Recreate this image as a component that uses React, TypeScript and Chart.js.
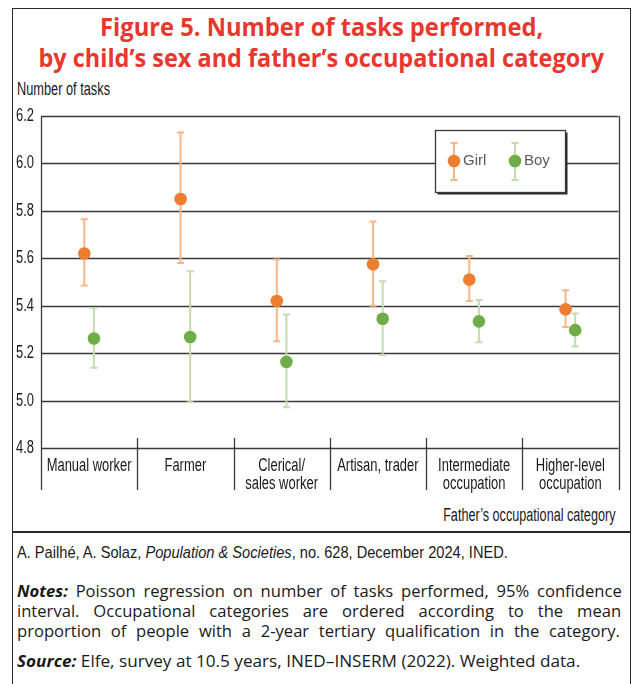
import React, { useEffect, useLayoutEffect, useRef, useState } from "react";
import { Chart, registerables } from "chart.js";

Chart.register(...registerables);

// ---------- data ----------
const categories: string[][] = [
  ["Manual worker"],
  ["Farmer"],
  ["Clerical/", "sales worker"],
  ["Artisan, trader"],
  ["Intermediate", "occupation"],
  ["Higher-level", "occupation"],
];
const seriesNames = ["Girl", "Boy"];
const girlMean = [5.62, 5.85, 5.42, 5.575, 5.51, 5.385];
const girlLow = [5.485, 5.58, 5.25, 5.4, 5.42, 5.31];
const girlHigh = [5.765, 6.13, 5.595, 5.755, 5.61, 5.465];
const boyMean = [5.262, 5.268, 5.163, 5.345, 5.334, 5.297];
const boyLow = [5.138, 4.993, 4.972, 5.192, 5.246, 5.228];
const boyHigh = [5.39, 5.545, 5.363, 5.503, 5.424, 5.367];
const yTicks = [4.8, 5.0, 5.2, 5.4, 5.6, 5.8, 6.0, 6.2];

// ---------- styles ----------
const REG = "'Liberation Sans', Arial, sans-serif";
const HUM = "'Open Sans', 'Noto Sans', sans-serif";
const NARROW_SCALE = 0.72;
const LINE = "#3a3a3a";
const TEXT = "#1a1a1a";
const dotColors = ["#ED7D31", "#70AD47"];
const barColors = ["#F6B688", "#C3DDB0"];
const OFFSET = 0.05;

const framePlugin: any = {
  id: "framePlugin",
  beforeDraw(chart: any) {
    // emulate a condensed face for the axis labels
    const ctx = chart.ctx;
    const orig = ctx.fillText;
    chart.$origFillText = orig;
    ctx.fillText = function (text: string, x: number, y: number) {
      this.save();
      this.translate(x, y);
      this.scale(NARROW_SCALE, 1);
      orig.call(this, text, 0, 0);
      this.restore();
    };
  },
  beforeDatasetsDraw(chart: any) {
    const { ctx, chartArea: ca, scales } = chart;
    if (chart.$origFillText) {
      delete ctx.fillText;
      chart.$origFillText = null;
    }
    const y = scales.y;
    const x = scales.x;
    ctx.save();
    ctx.strokeStyle = LINE;
    ctx.lineWidth = 1.3;
    yTicks.forEach((v) => {
      const py = Math.round(y.getPixelForValue(v)) + 0.5;
      ctx.beginPath();
      ctx.moveTo(ca.left, py);
      ctx.lineTo(ca.right, py);
      ctx.stroke();
    });
    const bottomExt = ca.bottom + 42;
    for (let i = 0; i <= categories.length; i++) {
      const px = Math.round(x.getPixelForValue(i - 0.5)) + 0.5;
      const isEdge = i === 0 || i === categories.length;
      ctx.beginPath();
      ctx.moveTo(px, isEdge ? ca.top : ca.bottom - 10);
      ctx.lineTo(px, bottomExt);
      ctx.stroke();
    }
    const lows = [girlLow, boyLow];
    const highs = [girlHigh, boyHigh];
    chart.data.datasets.forEach((ds: any, di: number) => {
      const meta = chart.getDatasetMeta(di);
      ctx.strokeStyle = barColors[di];
      ctx.lineWidth = 2;
      meta.data.forEach((el: any, i: number) => {
        const px = el.x;
        const pl = y.getPixelForValue(lows[di][i]);
        const ph = y.getPixelForValue(highs[di][i]);
        ctx.beginPath();
        ctx.moveTo(px, pl);
        ctx.lineTo(px, ph);
        ctx.moveTo(px - 3.5, pl);
        ctx.lineTo(px + 3.5, pl);
        ctx.moveTo(px - 3.5, ph);
        ctx.lineTo(px + 3.5, ph);
        ctx.stroke();
      });
    });
    ctx.restore();
  },
  afterDatasetsDraw(chart: any) {
    const { ctx, chartArea: ca } = chart;
    const bx = ca.left + 394;
    const by = ca.top + 14;
    const w = 130;
    const h = 62;
    ctx.save();
    ctx.fillStyle = "#2a2a2a";
    ctx.fillRect(bx + 2.5, by + 2.5, w, h);
    ctx.fillStyle = "#ffffff";
    ctx.fillRect(bx, by, w, h);
    ctx.strokeStyle = LINE;
    ctx.lineWidth = 1.3;
    ctx.strokeRect(bx + 0.5, by + 0.5, w, h);
    const cy = by + 31;
    const marks = [bx + 19, bx + 80];
    seriesNames.forEach((name, i) => {
      const mx = marks[i];
      ctx.strokeStyle = barColors[i];
      ctx.lineWidth = 2;
      ctx.beginPath();
      ctx.moveTo(mx, cy - 18);
      ctx.lineTo(mx, cy + 19);
      ctx.moveTo(mx - 3.5, cy - 18);
      ctx.lineTo(mx + 3.5, cy - 18);
      ctx.moveTo(mx - 3.5, cy + 19);
      ctx.lineTo(mx + 3.5, cy + 19);
      ctx.stroke();
      ctx.fillStyle = dotColors[i];
      ctx.beginPath();
      ctx.arc(mx, cy, 6.3, 0, Math.PI * 2);
      ctx.fill();
      ctx.fillStyle = "#595959";
      ctx.font = `15px ${REG}`;
      ctx.textBaseline = "middle";
      ctx.textAlign = "left";
      ctx.fillText(name, mx + 9, cy);
    });
    ctx.restore();
  },
};

function ChartCanvas() {
  const ref = useRef<HTMLCanvasElement>(null);
  useEffect(() => {
    if (!ref.current) return;
    const means = [girlMean, boyMean];
    const chart = new Chart(ref.current, {
      type: "scatter",
      data: {
        datasets: seriesNames.map((name, di) => ({
          label: name,
          data: means[di].map((v, i) => ({ x: i + (di === 0 ? -OFFSET : OFFSET), y: v })),
          backgroundColor: dotColors[di],
          borderColor: dotColors[di],
          borderWidth: 0,
          pointRadius: 6.3,
          pointHoverRadius: 6.3,
          showLine: false,
        })),
      },
      options: {
        animation: false,
        responsive: false,
        devicePixelRatio: 1,
        layout: { padding: { top: 41, right: 11.5, left: 0, bottom: 0 } },
        plugins: { legend: { display: false }, tooltip: { enabled: false } },
        scales: {
          x: {
            type: "linear",
            min: -0.5,
            max: 5.5,
            grid: { display: false, drawTicks: false },
            border: { display: false },
            afterBuildTicks: (s: any) => {
              s.ticks = categories.map((_, i) => ({ value: i }));
            },
            afterFit: (s: any) => {
              s.height = 57;
            },
            ticks: {
              autoSkip: false,
              maxRotation: 0,
              minRotation: 0,
              padding: 9,
              color: TEXT,
              font: { family: REG, size: 18, lineHeight: 1.0 },
              callback: (v: any) => categories[Math.round(Number(v))],
            },
          },
          y: {
            type: "linear",
            min: 4.8,
            max: 6.2,
            grid: { display: false, drawTicks: false },
            border: { display: false },
            afterBuildTicks: (s: any) => {
              s.ticks = yTicks.map((v) => ({ value: v }));
            },
            afterFit: (s: any) => {
              s.width = 29;
            },
            ticks: {
              padding: 7,
              color: TEXT,
              font: { family: REG, size: 18 },
              callback: (v: any) => Number(v).toFixed(1),
            },
          },
        },
      },
      plugins: [framePlugin],
    });
    return () => chart.destroy();
  }, []);
  return (
    <canvas
      ref={ref}
      width={618}
      height={430}
      style={{ position: "absolute", left: 12, top: 75, width: 618, height: 430 }}
    />
  );
}

// Text scaled horizontally to a target width (emulates the condensed faces of the original)
function FitText({
  target,
  origin = "left",
  children,
}: {
  target: number;
  origin?: string;
  children: React.ReactNode;
}) {
  const ref = useRef<HTMLSpanElement>(null);
  const [s, setS] = useState(1);
  useLayoutEffect(() => {
    if (ref.current) {
      const w = ref.current.offsetWidth;
      if (w > 0) setS(target / w);
    }
  }, [target]);
  return (
    <span
      ref={ref}
      style={{
        display: "inline-block",
        whiteSpace: "nowrap",
        transform: `scaleX(${s})`,
        transformOrigin: origin,
      }}
    >
      {children}
    </span>
  );
}

// Justified single line: widen word gaps, or squeeze if too long
function JustLine({ target, children }: { target: number; children: React.ReactNode }) {
  const ref = useRef<HTMLSpanElement>(null);
  const [ws, setWs] = useState(0);
  const [sc, setSc] = useState(1);
  useLayoutEffect(() => {
    const el = ref.current;
    if (!el) return;
    const w = el.offsetWidth;
    const spaces = (el.textContent || "").split(" ").length - 1;
    if (w < target && spaces > 0) setWs((target - w) / spaces);
    else if (w > target) setSc(target / w);
  }, [target]);
  return (
    <div style={{ height: 20, lineHeight: "20px" }}>
      <span
        ref={ref}
        style={{
          display: "inline-block",
          whiteSpace: "nowrap",
          wordSpacing: ws,
          transform: `scaleX(${sc})`,
          transformOrigin: "left",
        }}
      >
        {children}
      </span>
    </div>
  );
}

export default function App() {
  return (
    <div
      style={{
        position: "absolute",
        left: 0,
        top: 0,
        width: 633,
        height: 684,
        overflow: "hidden",
        background: "#fff",
        color: TEXT,
      }}
    >
      <div
        style={{
          position: "absolute",
          left: 12,
          top: 8,
          width: 619,
          height: 720,
          border: "1.5px solid #2a2a2a",
          boxSizing: "border-box",
        }}
      />
      <div style={{ position: "absolute", left: 12, top: 531, width: 619, height: 1.5, background: "#2a2a2a" }} />
      {/* title */}
      <div
        style={{
          position: "absolute",
          left: 12,
          top: 11,
          width: 619,
          textAlign: "center",
          color: "#E8372F",
          fontFamily: HUM,
          fontWeight: 700,
          fontSize: 25,
          lineHeight: "31px",
        }}
      >
        <div>
          <FitText target={443} origin="center">
            Figure 5. Number of tasks performed,
          </FitText>
        </div>
        <div>
          <FitText target={566} origin="center">
            by child’s sex and father’s occupational category
          </FitText>
        </div>
      </div>
      <div
        style={{
          position: "absolute",
          left: 17,
          top: 79,
          fontFamily: REG,
          fontSize: 18,
          lineHeight: "20px",
        }}
      >
        <FitText target={93}>Number of tasks</FitText>
      </div>
      <ChartCanvas />
      <div
        style={{
          position: "absolute",
          right: 633 - 615,
          top: 505,
          fontFamily: REG,
          fontSize: 18,
          lineHeight: "20px",
          whiteSpace: "nowrap",
        }}
      >
        <FitText target={172} origin="right">
          Father’s occupational category
        </FitText>
      </div>
      {/* footer */}
      <div
        style={{
          position: "absolute",
          left: 17,
          top: 543,
          fontFamily: REG,
          fontSize: 17,
          lineHeight: "20px",
        }}
      >
        <FitText target={491}>
          A. Pailhé, A. Solaz, <i>Population &amp; Societies</i>, no. 628, December 2024, INED.
        </FitText>
      </div>
      <div
        style={{
          position: "absolute",
          left: 17,
          top: 581,
          width: 605,
          fontFamily: HUM,
          fontSize: 16.6,
        }}
      >
        <JustLine target={605}>
          <b>
            <i>Notes:</i>
          </b>{" "}
          Poisson regression on number of tasks performed, 95% confidence
        </JustLine>
        <JustLine target={604}>interval. Occupational categories are ordered according to the mean</JustLine>
        <JustLine target={603}>proportion of people with a 2-year tertiary qualification in the category.</JustLine>
        <div style={{ height: 10 }} />
        <div style={{ height: 20, lineHeight: "20px" }}>
          <FitText target={563}>
            <b>
              <i>Source:</i>
            </b>{" "}
            Elfe, survey at 10.5 years, INED–INSERM (2022). Weighted data.
          </FitText>
        </div>
      </div>
    </div>
  );
}
